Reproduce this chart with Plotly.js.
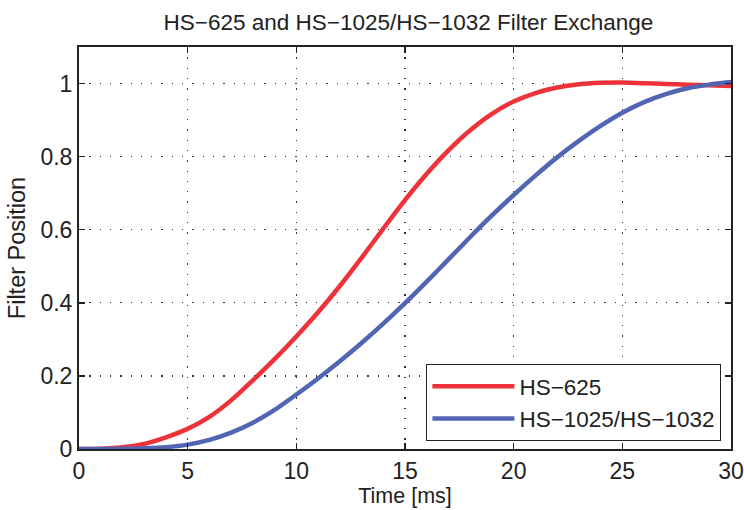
<!DOCTYPE html>
<html>
<head>
<meta charset="utf-8">
<script src="https://cdn.plot.ly/plotly-3.0.1.min.js"></script>
<style>html,body{margin:0;padding:0;background:#fff;}#chart{width:744px;height:510px;}</style>
</head>
<body>
<div id="chart"></div>
<script>
const timeMs = [0,1,2,3,4,5,6,7,8,9,10,11,12,13,14,15,16,17,18,19,20,21,22,23,24,25,26,27,28,29,30];
const hs625 = [0,0.001,0.005,0.014,0.032,0.055,0.088,0.133,0.188,0.246,0.308,0.374,0.446,0.523,0.603,0.681,0.753,0.817,0.872,0.917,0.951,0.974,0.989,0.998,1.002,1.003,1.001,0.999,0.997,0.995,0.993];
const hs1025 = [0,0,0.0005,0.002,0.005,0.012,0.025,0.045,0.072,0.107,0.149,0.193,0.240,0.290,0.343,0.399,0.458,0.519,0.580,0.639,0.695,0.748,0.798,0.843,0.884,0.920,0.949,0.971,0.987,0.997,1.004];
const seriesNames = ['HS\u2212625', 'HS\u22121025/HS\u22121032'];
const titleText = 'HS\u2212625 and HS\u22121025/HS\u22121032 Filter Exchange';
const xTitle = 'Time [ms]';
const yTitle = 'Filter Position';
const xTicks = [0,5,10,15,20,25,30];
const yTicks = [0,0.2,0.4,0.6,0.8,1];
const yTickLabels = ['0','0.2','0.4','0.6','0.8','1'];

const font = 'Liberation Sans, Arial, sans-serif';
const traces = [
  {x: timeMs, y: hs625, name: seriesNames[0], mode: 'lines', line: {color: '#ee3239', width: 4.5, shape: 'spline', smoothing: 0.8}},
  {x: timeMs, y: hs1025, name: seriesNames[1], mode: 'lines', line: {color: '#5165b2', width: 4.5, shape: 'spline', smoothing: 0.8}}
];
const axisCommon = {
  showline: true, linecolor: '#222', linewidth: 2, mirror: 'ticks',
  ticks: 'inside', ticklen: 6, tickwidth: 1.5, tickcolor: '#222',
  showgrid: true, gridcolor: '#333', griddash: '1.3px,9px', gridwidth: 1.3,
  zeroline: false, tickfont: {family: font, size: 23, color: '#222'}
};
const layout = {
  width: 744, height: 510,
  margin: {l: 79, r: 13, t: 47, b: 61},
  paper_bgcolor: '#fff', plot_bgcolor: '#fff',
  title: {text: titleText, font: {family: font, size: 22.5, color: '#222'}, x: 0.549, xanchor: 'center', y: 0.957, yanchor: 'middle'},
  xaxis: Object.assign({}, axisCommon, {range: [0, 30], tickvals: xTicks, ticktext: xTicks.map(String),
    title: {text: xTitle, font: {family: font, size: 21.5, color: '#222'}, standoff: 4}}),
  yaxis: Object.assign({}, axisCommon, {range: [0, 1.1], tickvals: yTicks, ticktext: yTickLabels,
    title: {text: yTitle, font: {family: font, size: 23.5, color: '#222'}, standoff: 8}}),
  showlegend: true,
  legend: {x: 0.985, y: 0.02, xanchor: 'right', yanchor: 'bottom', bgcolor: '#fff', bordercolor: '#222', borderwidth: 1.2,
    font: {family: font, size: 22.5, color: '#222'}, itemwidth: 82, tracegroupgap: 0}
};
Plotly.newPlot('chart', traces, layout, {displayModeBar: false, staticPlot: true});
</script>
</body>
</html>
